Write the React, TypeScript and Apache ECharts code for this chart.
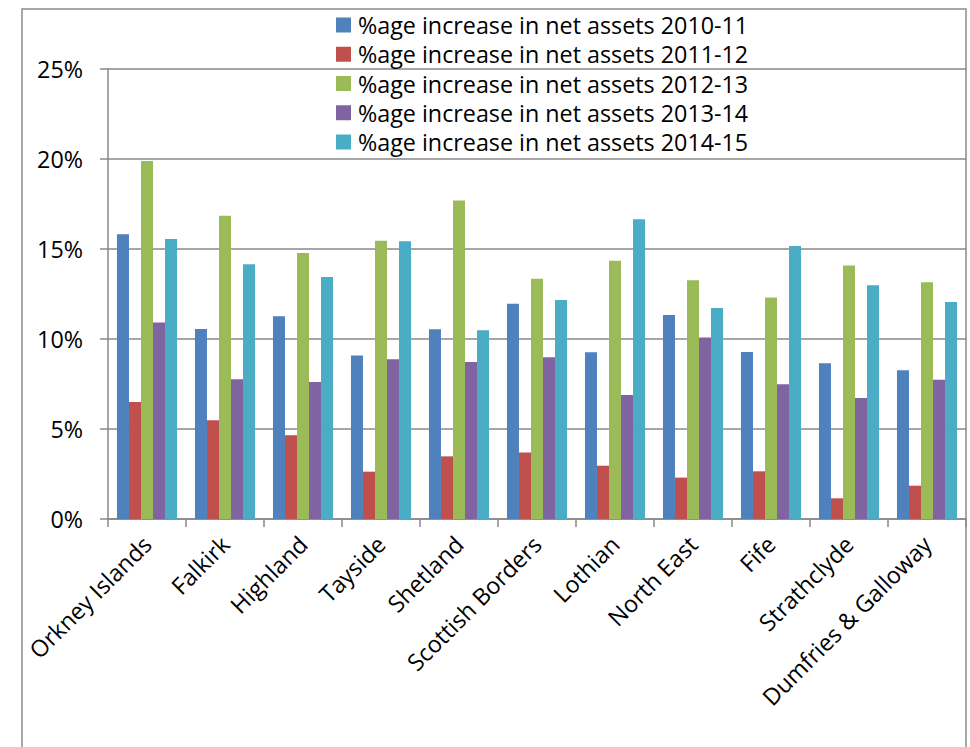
import React, { useEffect, useRef } from "react";
import * as echarts from "echarts";

const categories = [
  "Orkney Islands", "Falkirk", "Highland", "Tayside", "Shetland",
  "Scottish Borders", "Lothian", "North East", "Fife", "Strathclyde",
  "Dumfries & Galloway",
];

const seriesNames = [
  "%age increase in net assets 2010-11",
  "%age increase in net assets 2011-12",
  "%age increase in net assets 2012-13",
  "%age increase in net assets 2013-14",
  "%age increase in net assets 2014-15",
];

const values2010_11 = [15.82, 10.56, 11.26, 9.09, 10.54, 11.96, 9.26, 11.33, 9.28, 8.65, 8.26];
const values2011_12 = [6.5, 5.48, 4.65, 2.63, 3.48, 3.7, 2.96, 2.3, 2.65, 1.15, 1.85];
const values2012_13 = [19.89, 16.85, 14.78, 15.46, 17.7, 13.35, 14.35, 13.26, 12.3, 14.09, 13.15];
const values2013_14 = [10.91, 7.76, 7.61, 8.87, 8.72, 8.98, 6.89, 10.09, 7.48, 6.72, 7.74];
const values2014_15 = [15.56, 14.15, 13.44, 15.43, 10.48, 12.17, 16.65, 11.72, 15.17, 12.98, 12.06];

const seriesColors = ["#4F81BD", "#C0504D", "#9BBB59", "#8064A2", "#4BACC6"];

const yTicks = { min: 0, max: 25, interval: 5 };

const FONT = "'Open Sans', sans-serif";
const FS = 23.3;

export default function App() {
  const ref = useRef<HTMLDivElement>(null);

  useEffect(() => {
    if (!ref.current) return;
    const chart = echarts.init(ref.current, undefined, { renderer: "svg" });
    const allValues = [values2010_11, values2011_12, values2012_13, values2013_14, values2014_15];
    chart.setOption({
      animation: false,
      backgroundColor: "#ffffff",
      textStyle: { fontFamily: FONT },
      graphic: [
        {
          type: "rect",
          shape: { x: 22, y: 9, width: 944, height: 780 },
          style: { fill: "none", stroke: "#8c8c8c", lineWidth: 1.5 },
          silent: true,
          z: -10,
        },
      ],
      legend: {
        orient: "vertical",
        left: 336,
        top: 13.5,
        padding: 0,
        itemWidth: 15,
        itemHeight: 15,
        itemGap: 6.25,
        icon: "rect",
        textStyle: { fontFamily: FONT, fontSize: FS, color: "#000", padding: [0, 0, 0, 2] },
        data: seriesNames,
      },
      grid: { left: 108, right: 4, top: 69, bottom: 228, containLabel: false },
      xAxis: {
        type: "category",
        data: categories,
        axisLine: { lineStyle: { color: "#888", width: 1.5 } },
        axisTick: { show: true, alignWithLabel: false, length: 8, lineStyle: { color: "#888", width: 1.5 } },
        axisLabel: {
          rotate: 45,
          interval: 0,
          margin: 21,
          fontFamily: FONT,
          fontSize: FS,
          color: "#000",
        },
      },
      yAxis: {
        type: "value",
        min: yTicks.min,
        max: yTicks.max,
        interval: yTicks.interval,
        axisLine: { show: true, lineStyle: { color: "#888", width: 1.5 } },
        axisTick: { show: true, length: 8, lineStyle: { color: "#888", width: 1.5 } },
        splitLine: { lineStyle: { color: "#888", width: 1.5 } },
        axisLabel: {
          formatter: "{value}%",
          margin: 25,
          fontFamily: FONT,
          fontSize: FS,
          color: "#000",
        },
      },
      series: seriesNames.map((name, i) => ({
        name,
        type: "bar",
        data: allValues[i],
        barGap: "0%",
        barCategoryGap: "23%",
        itemStyle: { color: seriesColors[i] },
      })),
    });
    return () => chart.dispose();
  }, []);

  return (
    <div
      ref={ref}
      style={{ position: "fixed", left: 0, top: 0, width: 970, height: 747 }}
    />
  );
}
